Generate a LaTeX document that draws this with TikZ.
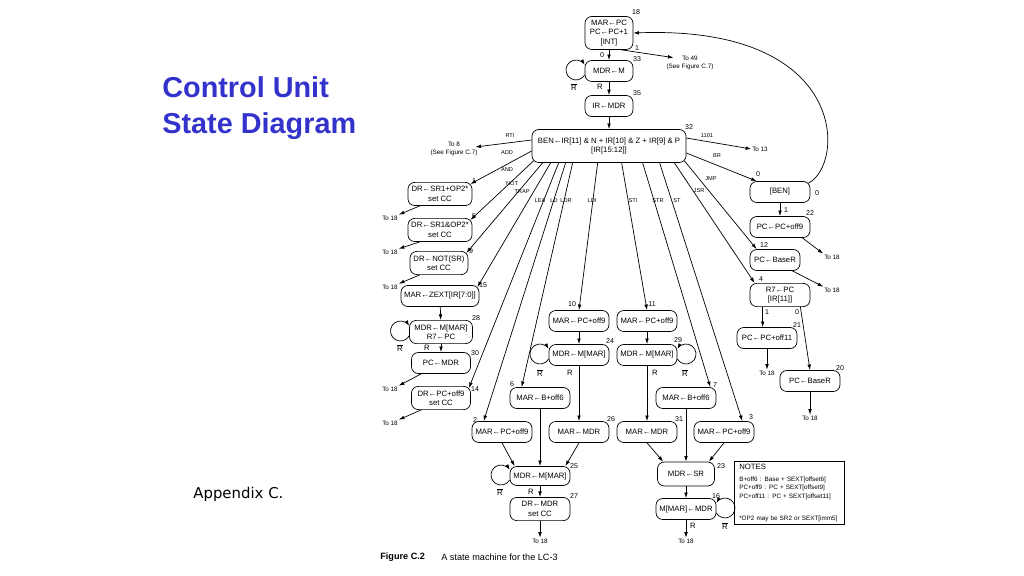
\documentclass[tikz,border=0pt]{standalone}
\usepackage{fontspec}
\setmainfont{Liberation Sans}
\newfontfamily\apxfont{DejaVu Sans}
\usetikzlibrary{arrows.meta,calc}

\newcommand\dgfont{\fontsize{5.5}{6.7}\selectfont}
\newcommand\tofont{\fontsize{4.5}{6.3}\selectfont}
\newcommand\numfont{\fontsize{5}{6}\selectfont}
\newcommand\labfont{\fontsize{4}{5}\selectfont}
\newcommand\Rbar{\vbox{\hrule height 0.35pt\kern0.6pt\hbox{R}}}
\definecolor{titleblue}{RGB}{51,51,204}

\tikzset{
  state/.style={draw, rounded corners=0.17cm, minimum width=1.5cm,
    minimum height=0.525cm, inner sep=1pt, align=center, font=\dgfont},
  twoline/.style={minimum height=0.58cm},
  dest/.style={inner sep=0.5pt, align=center, font=\tofont},
  num/.style={inner sep=0pt, font=\numfont},
  tlab/.style={inner sep=0pt, font=\labfont},
  rlab/.style={inner sep=0pt, font=\dgfont},
  arr/.style={-{Latex[length=4pt,width=2.6pt]}},
}

\begin{document}
\begin{tikzpicture}[x=0.025cm, y=-0.025cm, line width=0.5pt]
  \useasboundingbox (0,0) rectangle (1024,576);

  % title
  \node[anchor=north west, align=left, inner sep=0pt, text=titleblue,
    font=\fontsize{20.5}{25.5}\selectfont\bfseries] (title) at (162,76) {Control Unit\\State Diagram};
  \node[anchor=west, inner sep=0pt, font=\apxfont\fontsize{10.6}{12}\selectfont] (apx) at (193,494) {Appendix C.};

  % fetch and decode
  \node[state, minimum width=1.2cm, minimum height=0.825cm] (s18) at (609,33) {MAR←PC\\PC←PC+1\\{}[INT]};
  \node[state, minimum width=1.2cm] (s33) at (609,71) {MDR←M};
  \node[state, minimum width=1.2cm] (s35) at (609,106) {IR←MDR};
  \node[state, minimum width=3.85cm, minimum height=0.825cm] (s32) at (609,146) {BEN←IR[11] \& N + IR[10] \& Z + IR[9] \& P\\{}[IR[15:12]]};
  \node[dest] (to49) at (690,63) {To 49\\(See Figure C.7)};
  \node[dest] (to8) at (454,149) {To 8\\(See Figure C.7)};
  \node[dest] (to13) at (760,149) {To 13};

  % left column
  \node[state, twoline, minimum width=1.6cm] (s1) at (440,194) {DR←SR1+OP2*\\set CC};
  \node[state, twoline, minimum width=1.6cm] (s5) at (440,230) {DR←SR1\&OP2*\\set CC};
  \node[state, twoline, minimum width=1.45cm] (s9) at (439,263) {DR←NOT(SR)\\set CC};
  \node[state, minimum width=1.95cm] (s15) at (440,296) {MAR←ZEXT[IR[7:0]]};
  \node[state, twoline, minimum width=1.575cm] (s28) at (441,332) {MDR←M[MAR]\\R7←PC};
  \node[state, minimum width=1.475cm] (s30) at (441,363) {PC←MDR};
  \node[state, twoline, minimum width=1.475cm] (s14) at (441,398) {DR←PC+off9\\set CC};
  \node[dest] (t1) at (390,218) {To 18};
  \node[dest] (t5) at (390,252) {To 18};
  \node[dest] (t9) at (390,287) {To 18};
  \node[dest] (t30) at (390,389) {To 18};
  \node[dest] (t14) at (390,423) {To 18};

  % loads and stores
  \node[state] (s2) at (502,432) {MAR←PC+off9};
  \node[state] (s6) at (540,398) {MAR←B+off6};
  \node[state] (s10) at (579,321) {MAR←PC+off9};
  \node[state] (s24) at (579,355) {MDR←M[MAR]};
  \node[state] (s26) at (579,432) {MAR←MDR};
  \node[state] (s11) at (647,321) {MAR←PC+off9};
  \node[state] (s29) at (647,355) {MDR←M[MAR]};
  \node[state] (s31) at (647,432) {MAR←MDR};
  \node[state] (s7) at (686,398) {MAR←B+off6};
  \node[state] (s3) at (724,432) {MAR←PC+off9};
  \node[state, minimum height=0.475cm] (s25) at (540,476) {MDR←M[MAR]};
  \node[state, twoline] (s27) at (540,509) {DR←MDR\\set CC};
  \node[state, minimum width=1.425cm, minimum height=0.6cm] (s23) at (686,474) {MDR←SR};
  \node[state] (s16) at (686,509) {M[MAR]←MDR};
  \node[dest] (t27) at (540,541) {To 18};
  \node[dest] (t16) at (686,541) {To 18};

  % right column
  \node[state] (ben) at (780,192) {[BEN]};
  \node[state] (s22) at (780,227) {PC←PC+off9};
  \node[state, minimum width=1.25cm] (s12) at (775,260) {PC←BaseR};
  \node[state, twoline] (s4) at (780,295) {R7←PC\\{}[IR[11]]};
  \node[state] (s21) at (767,338) {PC←PC+off11};
  \node[state] (s20) at (810,381) {PC←BaseR};
  \node[dest] (t22) at (832,257) {To 18};
  \node[dest] (t12) at (832,290) {To 18};
  \node[dest] (t21) at (767,373) {To 18};
  \node[dest] (t20) at (810,418) {To 18};

  % notes
  \node[draw, anchor=north west, align=left, inner xsep=3.5pt, inner ysep=2pt,
    text width=71pt, font=\fontsize{4.5}{6}\selectfont] (notes) at (734,461)
    {{\fontsize{5.5}{6}\selectfont NOTES}\\[2.5pt]
     B+off6 : Base + SEXT[offset6]\\
     PC+off9 : PC + SEXT[offset9]\\
     PC+off11 : PC + SEXT[offset11]\\[9.6pt]
     *OP2 may be SR2 or SEXT[imm5]};

  % caption
  \node[anchor=west, inner sep=0pt, font=\fontsize{6.5}{8}\selectfont\bfseries] (figno) at (380,557) {Figure C.2};
  \node[anchor=west, inner sep=0pt, font=\fontsize{6.5}{8}\selectfont] (figcap) at (441,557) {A state machine for the LC-3};

  % state numbers
  \foreach \n/\x/\y in {18/636/12, 33/637/59, 35/637/93, 32/689/127, 1/474/181, 5/474/216,
      9/471/251, 15/483/285, 28/476/318, 30/475/353, 14/475/389, 2/475/420, 6/512/384,
      10/572/304, 24/610/341, 11/652/304, 29/678/340, 7/715/385, 26/611/419, 31/679/419,
      3/751/417, 25/574/466, 27/574/496, 23/721/466, 16/716/496, 22/810/213, 12/764/245,
      4/761/279, 21/797/325, 20/840/368}
    \node[num] (n\n) at (\x,\y) {\n};

  % opcode labels
  \foreach \t/\x/\y/\m in {RTI/510/136/rti, ADD/507/153/add, AND/507/170/and, NOT/512/184/not,
      TRAP/522/192/trap, LEA/540/201/lea, LD/554/201/ld, LDR/566/201/ldr, LDI/592/201/ldi,
      STI/633/201/sti, STR/658/201/str, ST/677/201/st, JSR/699/191/jsr, JMP/711/179/jmp,
      BR/717/156/br, 1101/707/136/hlt}
    \node[tlab] (\m) at (\x,\y) {\t};

  % branch conditions
  \node[num] (c18a) at (602,55) {0};
  \node[num] (c18b) at (637,48) {1};
  \node[num] (cben0) at (758,174) {0};
  \node[num] (cben1) at (817,193) {0};
  \node[num] (cben2) at (786,210) {1};
  \node[num] (c4a) at (767,312) {1};
  \node[num] (c4b) at (797,312) {0};
  \foreach \x/\y/\m in {574/87/a, 400/348/b, 540/373/c, 685/373/d, 500/492/e, 725/526/f}
    \node[rlab] (rb\m) at (\x,\y) {\Rbar};
  \foreach \x/\y/\m in {600/87/a, 427/348/b, 570/373/c, 655/373/d, 531/492/e, 693/526/f}
    \node[rlab] (r\m) at (\x,\y) {R};

  % fetch arrows
  \draw[arr] (s18) -- (s33);
  \draw[arr] (s33) -- (s35);
  \draw[arr] (s35) -- (s32);
  \draw[arr] ($(s18.south east)+(-12,0)$) -- ($(to49.north west)+(8,3)$);
  \draw[arr] ($(s33.west)+(0,4)$) arc[start angle=30, end angle=330, radius=10];
  \draw[arr] ($(ben.north east)+(-2,2)$) .. controls (845,165) and (850,25) .. (s18.east);

  % opcode arrows
  \draw[arr] ($(s32.west)+(0,-6)$) -- ($(to8.east)+(-3,-2)$);
  \draw[arr] ($(s32.west)+(0,5)$) -- ($(s1.north east)+(-2,2)$);
  \draw[arr] ($(s32.south west)+(2,-2)$) -- ($(s5.north east)+(-2,2)$);
  \draw[arr] ($(s32.south west)+(11,0)$) -- ($(s9.north east)+(-2,2)$);
  \draw[arr] ($(s32.south west)+(19,0)$) -- ($(s15.north east)+(-2,2)$);
  \draw[arr] ($(s32.south west)+(27,0)$) -- ($(s14.north east)+(-2,2)$);
  \draw[arr] ($(s32.south west)+(34,0)$) -- ($(s2.north west)+(12,0)$);
  \draw[arr] ($(s32.south west)+(41,0)$) -- ($(s6.north west)+(12,0)$);
  \draw[arr] ($(s32.south west)+(66,0)$) -- (s10.north);
  \draw[arr] ($(s32.south west)+(90,0)$) -- (s11.north);
  \draw[arr] ($(s32.south west)+(111,0)$) -- ($(s7.north east)+(-6,0)$);
  \draw[arr] ($(s32.south west)+(128,0)$) -- ($(s3.north east)+(-12,0)$);
  \draw[arr] ($(s32.south east)+(-12,0)$) -- ($(s4.north west)+(5,0)$);
  \draw[arr] ($(s32.south east)+(-2,-2)$) -- ($(s12.north west)+(7,0)$);
  \draw[arr] ($(s32.east)+(0,7)$) -- ($(ben.north west)+(7,0)$);
  \draw[arr] ($(s32.east)+(0,-8)$) -- (to13.west);

  % left column arrows
  \draw[arr] ($(s1.south west)+(12,0)$) -- (t1.north east);
  \draw[arr] ($(s5.south west)+(12,0)$) -- (t5.north east);
  \draw[arr] ($(s9.south west)+(10,0)$) -- (t9.north east);
  \draw[arr] (s15) -- (s28);
  \draw[arr] ($(s28.west)+(0,4)$) arc[start angle=30, end angle=330, radius=10];
  \draw[arr] (s28) -- (s30);
  \draw[arr] ($(s30.south west)+(10,0)$) -- (t30.north east);
  \draw[arr] ($(s14.south west)+(10,0)$) -- (t14.north east);

  % memory access arrows
  \draw[arr] (s10) -- (s24);
  \draw[arr] ($(s24.west)+(0,4)$) arc[start angle=30, end angle=330, radius=10];
  \draw[arr] (s24) -- (s26);
  \draw[arr] (s11) -- (s29);
  \draw[arr] ($(s29.east)+(0,4)$) arc[start angle=150, end angle=-150, radius=10];
  \draw[arr] (s29) -- (s31);
  \draw[arr] (s2.south) -- ($(s25.north west)+(5,0)$);
  \draw[arr] (s6) -- (s25);
  \draw[arr] (s26.south) -- ($(s25.north east)+(-5,0)$);
  \draw[arr] ($(s25.west)+(0,4)$) arc[start angle=30, end angle=330, radius=10];
  \draw[arr] (s25) -- (s27);
  \draw[arr] (s27) -- (t27);
  \draw[arr] (s31.south) -- ($(s23.north west)+(6,0)$);
  \draw[arr] (s7) -- (s23);
  \draw[arr] (s3.south) -- ($(s23.north east)+(-6,0)$);
  \draw[arr] (s23) -- (s16);
  \draw[arr] ($(s16.east)+(0,4)$) arc[start angle=150, end angle=-150, radius=10];
  \draw[arr] (s16) -- (t16);

  % right column arrows
  \draw[arr] (ben) -- (s22);
  \draw[arr] ($(s22.south east)+(-8,0)$) -- (t22.north west);
  \draw[arr] ($(s12.south east)+(-8,0)$) -- (t12.north west);
  \draw[arr] ($(s4.south west)+(13,0)$) -- ($(s21.north west)+(26,0)$);
  \draw[arr] ($(s4.south east)+(-10,0)$) -- (s20.north);
  \draw[arr] (s21) -- (t21);
  \draw[arr] (s20) -- (t20);
\end{tikzpicture}
\end{document}
